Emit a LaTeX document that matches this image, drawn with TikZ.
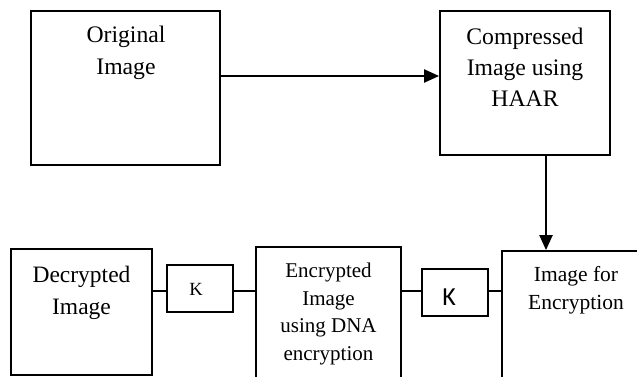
\documentclass[tikz,border=0pt]{standalone}
\usepackage{fontspec}
\setmainfont{Liberation Serif}
\newfontfamily\ksans{Carlito}
\usetikzlibrary{arrows.meta}
\begin{document}
\begin{tikzpicture}[x=1pt,y=-1pt,
  box/.style={draw,line width=1.8pt,inner sep=0pt},
  lbl/.style={align=center,inner sep=0pt,anchor=base},
  link/.style={line width=1.8pt},
  flow/.style={line width=2.2pt,-{Triangle[length=15pt,width=13pt]}}]
\useasboundingbox (0,0) rectangle (637,377);
\clip (0,0) rectangle (637,377);

% blocks
\node[box,minimum width=189pt,minimum height=154pt] (orig) at (125.5,88) {};
\node[box,minimum width=170pt,minimum height=144pt] (comp) at (525,83) {};
\node[box,minimum width=141pt,minimum height=126pt] (dec) at (81.5,312) {};
\node[box,minimum width=66pt,minimum height=47pt] (k1) at (200,288.5) {};
\node[box,minimum width=145pt,minimum height=153pt] (enc) at (328.5,323.5) {};
\node[box,minimum width=66pt,minimum height=47pt] (k2) at (455,292.5) {};
\node[box,minimum width=160pt,minimum height=150pt] (img) at (582,326) {};

% labels (placed by the baseline of their last line)
\node[lbl,font=\fontsize{23.7}{32}\selectfont] (origT) at (126,75) {Original\\Image};
\node[lbl,font=\fontsize{23.7}{31.2}\selectfont] (compT) at (525,106.7) {Compressed\\Image using\\HAAR};
\node[lbl,font=\fontsize{23.5}{32}\selectfont] (decT) at (81.5,314) {Decrypted\\Image};
\node[lbl,font=\fontsize{21}{27.8}\selectfont] (encT) at (328.5,360.7) {Encrypted\\Image\\using DNA\\encryption};
\node[lbl,font=\fontsize{21.5}{27.3}\selectfont] (imgT) at (576,309) {Image for\\Encryption};
\node[lbl,font=\fontsize{18.6}{20}\selectfont] (k1T) at (196,295) {K};
\node[lbl,font=\ksans\fontsize{26}{28}\selectfont] (k2T) at (449,305.7) {K};

% connectors
\coordinate (p1) at ([yshift=12pt]orig.east);
\draw[flow] (p1) -- (p1 -| comp.west);
\coordinate (p2) at ([xshift=21pt]comp.south);
\draw[flow] (p2) -- (p2 |- img.north);
\coordinate (row) at (0,291);
\draw[link] (row -| dec.east) -- (row -| k1.west);
\draw[link] (row -| k1.east) -- (row -| enc.west);
\draw[link] (row -| enc.east) -- (row -| k2.west);
\draw[link] (row -| k2.east) -- (row -| img.west);
\end{tikzpicture}
\end{document}
